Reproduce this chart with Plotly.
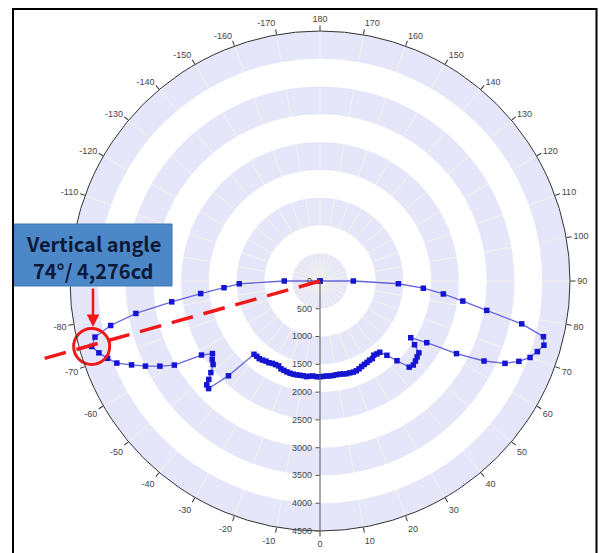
import math
import plotly.graph_objects as go

# Vertical angle (deg) and luminous intensity (cd) of the luminaire
angle_deg = [
    -180, -90, -88, -86, -84, -82, -80, -78, -76, -74, -72, -70, -68, -66, -64,
    -62, -60, -58, -56, -54, -52, -50, -48.5, -47.5, -46, -44, -42,
    -40, -38, -36, -34, -32, -30, -28, -26, -24, -22, -20, -18, -16, -14, -12,
    -10, -8, -6, -4, -2, 0, 2, 4, 6, 8, 10, 12, 14, 16, 18, 20, 22, 24, 26, 28,
    30, 32, 34, 36, 38, 40,
    42, 44, 46, 48, 50, 52, 54, 56, 58, 60, 62, 64, 66, 68, 70, 72, 74, 76, 78,
    80, 82, 84, 86, 88, 90, 180,
]
intensity_cd = [
    0, 643, 1454, 1732, 2160, 2695, 3365, 3852, 4174, 4276, 4185, 4070, 3944,
    3713, 3496, 3264, 3027, 2515, 2335, 2398, 2442, 2564, 2673, 2766, 2788,
    2372, 1775,
    1770, 1775, 1760, 1740, 1735, 1712, 1704, 1700, 1730, 1735, 1742, 1745,
    1745, 1742, 1734, 1732, 1738, 1722, 1715, 1724, 1723, 1718, 1714, 1718,
    1716, 1713, 1714, 1725, 1736, 1739, 1745, 1744, 1730, 1712, 1700, 1692,
    1680, 1685, 1650, 1665, 1675,
    1800, 1995, 2232, 2260, 2242, 2219, 2200, 2052, 1926, 2219, 2783, 3285,
    3645, 3861, 4024, 4113, 4194, 4145, 3712, 3047, 2596, 2232, 1864, 1411,
    600, 0,
]

# Highlighted peak
peak_angle = -74
peak_cd = 4276
callout_lines = ["Vertical angle", "74°/ 4,276cd"]

# Axis ticks (labels under the callout box are left blank)
angle_ticks = list(range(-170, 181, 10))
hidden_angle_labels = [-100, -90]
radial_ticks = list(range(0, 4501, 500))
r_max = 4500

# Alternating shaded rings (inner edge of each white ring)
ring_starts = [500, 1500, 2500, 3500]
ring_width = 500

LAVENDER = "#e6e6fa"
RED = "#f01818"
TICK_FONT = dict(family="Liberation Sans, Arial, sans-serif", size=9, color="#444444")
CALLOUT_FONT = dict(family="Noto Sans CJK KR, Noto Sans, sans-serif", size=20,
                    color="#0c1a38")

# Figure geometry (pixels); the polar disc sits in a square domain
W, H = 599, 553
CX, CY, R_PX = 320, 281, 250

# Callout box (pixels)
BOX_X0, BOX_X1, BOX_Y0, BOX_Y1 = 14, 172, 224, 286

fig = go.Figure()

# white rings over the lavender background
fig.add_trace(go.Barpolar(
    theta=[0] * len(ring_starts),
    r=[ring_width] * len(ring_starts),
    base=ring_starts,
    width=[360] * len(ring_starts),
    marker=dict(color="white", line=dict(width=0)),
    hoverinfo="skip",
    showlegend=False,
))

# measured distribution curve
fig.add_trace(go.Scatterpolar(
    theta=angle_deg,
    r=intensity_cd,
    mode="lines+markers",
    line=dict(color="#6464dc", width=1.3),
    marker=dict(symbol="square", size=5.5, color="#1414d2"),
    showlegend=False,
))

# ring around the peak point
fig.add_trace(go.Scatterpolar(
    theta=[peak_angle],
    r=[peak_cd],
    mode="markers",
    marker=dict(symbol="circle-open", size=36, color=RED,
                line=dict(width=3, color=RED)),
    cliponaxis=False,
    hoverinfo="skip",
    showlegend=False,
))

# dashed guide from the origin along the peak direction, running past the rim
guide_len = 1.15 * R_PX
guide_rad = math.radians(peak_angle - 0.3)
gx1 = CX + guide_len * math.sin(guide_rad)
gy1 = CY + guide_len * math.cos(guide_rad)

box_cx = (BOX_X0 + BOX_X1) / 2
line_ys = [243, 270]

annotations = [
    dict(
        xref="paper", yref="paper",
        x=box_cx / W, y=1 - ly / H,
        xanchor="center", yanchor="middle",
        text=f"<b>{txt}</b>",
        showarrow=False,
        font=CALLOUT_FONT,
    )
    for txt, ly in zip(callout_lines, line_ys)
]
annotations.append(dict(
    xref="paper", yref="paper",
    x=93 / W, y=1 - 327 / H,
    ax=0, ay=-40,
    text="",
    showarrow=True,
    arrowhead=2,
    arrowsize=1,
    arrowwidth=2.5,
    arrowcolor=RED,
))

fig.update_layout(
    width=W,
    height=H,
    margin=dict(l=0, r=0, t=0, b=0),
    paper_bgcolor="white",
    showlegend=False,
    polar=dict(
        domain=dict(x=[(CX - R_PX) / W, (CX + R_PX) / W],
                    y=[1 - (CY + R_PX) / H, 1 - (CY - R_PX) / H]),
        bgcolor=LAVENDER,
        barmode="overlay",
        angularaxis=dict(
            rotation=270,
            direction="counterclockwise",
            tickmode="array",
            tickvals=[a % 360 for a in angle_ticks],
            ticktext=["" if a in hidden_angle_labels else str(a) for a in angle_ticks],
            tickfont=TICK_FONT,
            ticks="outside",
            ticklen=5,
            tickcolor="#333333",
            showline=True,
            linecolor="#333333",
            linewidth=1,
            showgrid=True,
            gridcolor="#f3f3e6",
            gridwidth=1,
        ),
        radialaxis=dict(
            range=[0, r_max],
            angle=-90,
            side="clockwise",
            tickmode="array",
            tickvals=radial_ticks,
            ticktext=[str(v) for v in radial_ticks],
            tickfont=TICK_FONT,
            tickangle=-90,
            ticks="outside",
            ticklen=4,
            tickcolor="#555555",
            showline=True,
            linecolor="#555555",
            linewidth=1,
            showgrid=False,
        ),
    ),
    shapes=[
        dict(type="line", xref="paper", yref="paper",
             x0=CX / W, y0=1 - CY / H, x1=gx1 / W, y1=1 - gy1 / H,
             line=dict(color=RED, width=3.5, dash="22px,11px"),
             layer="above"),
        dict(type="rect", xref="paper", yref="paper",
             x0=BOX_X0 / W, x1=BOX_X1 / W, y0=1 - BOX_Y1 / H, y1=1 - BOX_Y0 / H,
             line=dict(color="#3f77b5", width=1), fillcolor="#4c87c8",
             layer="above"),
        dict(type="rect", xref="paper", yref="paper",
             x0=13 / W, x1=596.5 / W, y0=-0.02, y1=1 - 9 / H,
             line=dict(color="black", width=2), fillcolor="rgba(0,0,0,0)",
             layer="above"),
    ],
    annotations=annotations,
)

fig.write_html("out.html")
